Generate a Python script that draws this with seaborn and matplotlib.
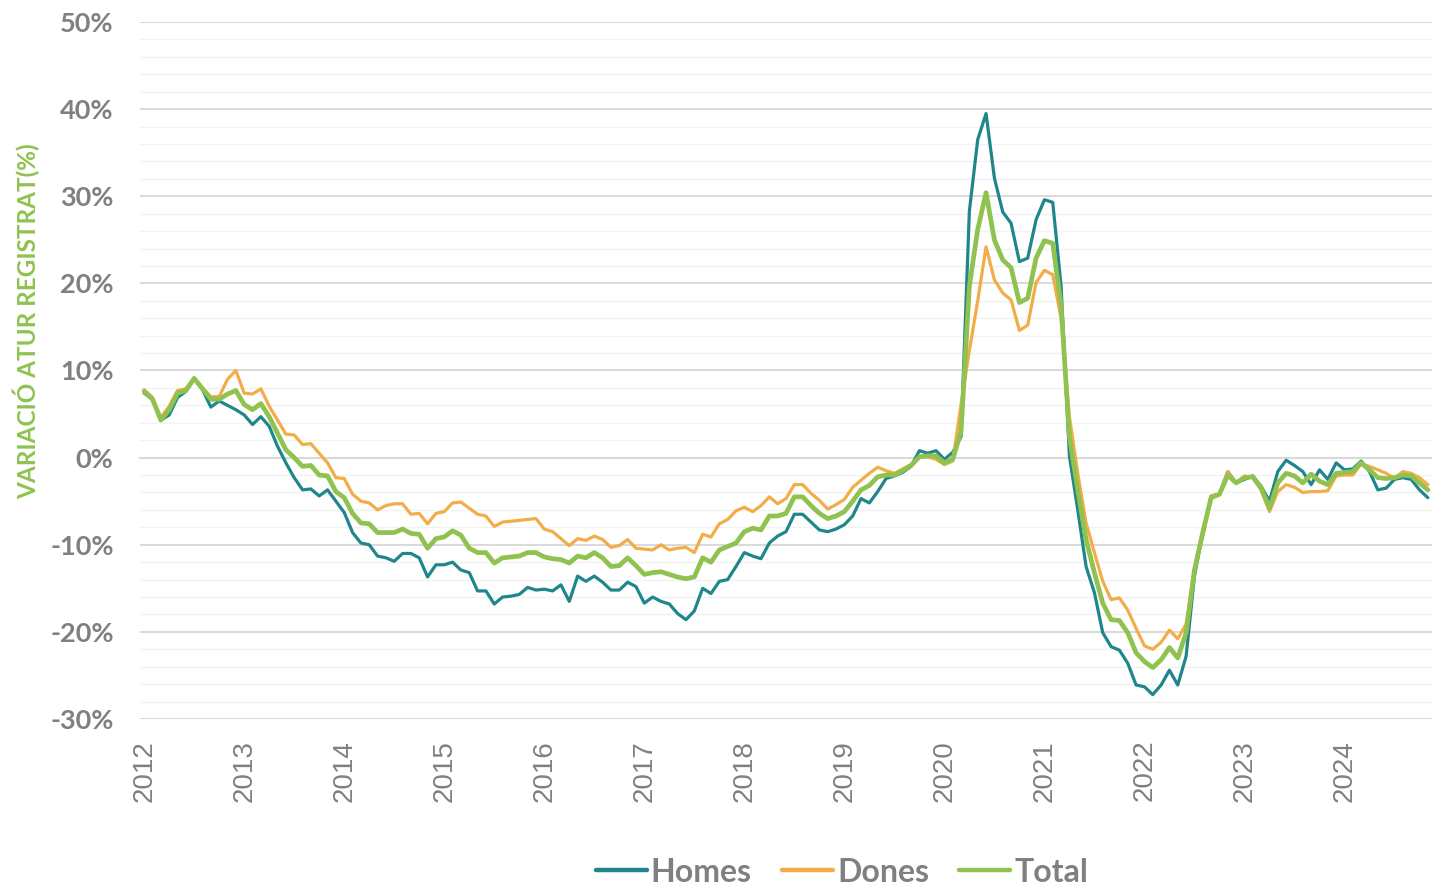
import numpy as np
import pandas as pd
import matplotlib
matplotlib.use("Agg")
import matplotlib.pyplot as plt
import seaborn as sns
from matplotlib.lines import Line2D

# ---------------- data (monthly, Jan 2012 .. Nov 2024) ----------------
years = [str(y) for y in range(2012, 2025)]

homes = [
    7.4, 6.7, 4.3, 4.9, 6.9, 7.6, 9.1, 7.8, 5.8, 6.5, 6.0, 5.5,
    4.9, 3.8, 4.7, 3.6, 1.3, -0.6, -2.3, -3.7, -3.6, -4.4, -3.7, -5.0,
    -6.3, -8.6, -9.8, -10.0, -11.3, -11.5, -11.9, -11.0, -11.0, -11.5, -13.7, -12.3,
    -12.3, -12.0, -12.9, -13.2, -15.3, -15.3, -16.8, -16.0, -15.9, -15.7, -14.9, -15.2,
    -15.1, -15.3, -14.6, -16.5, -13.6, -14.2, -13.6, -14.3, -15.2, -15.2, -14.3, -14.8,
    -16.7, -16.0, -16.5, -16.8, -17.9, -18.6, -17.6, -15.0, -15.6, -14.2, -14.0, -12.5,
    -10.9, -11.3, -11.6, -9.8, -9.0, -8.5, -6.5, -6.5, -7.4, -8.3, -8.5, -8.2,
    -7.7, -6.7, -4.7, -5.2, -3.9, -2.4, -2.1, -1.7, -1.0, 0.8, 0.5, 0.8,
    -0.2, 0.6, 2.4, 28.3, 36.5, 39.5, 32.1, 28.2, 26.9, 22.5, 22.9, 27.3,
    29.6, 29.3, 19.7, 0.2, -6.0, -12.5, -15.5, -20.1, -21.7, -22.1, -23.6, -26.1,
    -26.3, -27.2, -26.1, -24.4, -26.1, -22.8, -13.6, -8.6, -4.4, -4.2, -1.6, -2.9,
    -2.5, -2.1, -3.3, -5.0, -1.6, -0.3, -0.9, -1.6, -3.1, -1.4, -2.5, -0.6,
    -1.4, -1.3, -0.4, -1.6, -3.7, -3.5, -2.5, -2.3, -2.5, -3.7, -4.6,
]

dones = [
    7.8, 6.9, 4.6, 5.9, 7.7, 7.9, 9.1, 8.0, 7.0, 7.0, 9.0, 10.0,
    7.4, 7.3, 7.9, 5.9, 4.3, 2.7, 2.6, 1.5, 1.6, 0.5, -0.6, -2.3,
    -2.4, -4.2, -5.0, -5.2, -6.0, -5.5, -5.3, -5.3, -6.5, -6.4, -7.6, -6.4,
    -6.2, -5.2, -5.1, -5.8, -6.5, -6.7, -7.9, -7.4, -7.3, -7.2, -7.1, -7.0,
    -8.2, -8.5, -9.3, -10.1, -9.3, -9.5, -9.0, -9.4, -10.3, -10.1, -9.4, -10.4,
    -10.5, -10.6, -10.0, -10.6, -10.4, -10.3, -10.9, -8.8, -9.1, -7.6, -7.1, -6.1,
    -5.7, -6.2, -5.5, -4.5, -5.3, -4.7, -3.1, -3.1, -4.1, -4.9, -5.9, -5.4,
    -4.8, -3.4, -2.6, -1.8, -1.1, -1.5, -1.8, -1.3, -0.8, 0.1, 0.1, -0.2,
    -0.8, -0.4, 6.1, 12.3, 18.0, 24.2, 20.4, 18.9, 18.1, 14.6, 15.2, 20.1,
    21.5, 21.0, 16.0, 4.7, -1.8, -7.5, -10.9, -14.2, -16.3, -16.1, -17.5, -19.6,
    -21.6, -22.0, -21.2, -19.8, -20.8, -19.1, -12.9, -9.0, -4.4, -4.2, -1.6, -2.9,
    -2.1, -2.3, -3.7, -6.2, -3.9, -3.1, -3.4, -4.0, -3.9, -3.9, -3.8, -2.1,
    -2.0, -2.0, -0.7, -1.0, -1.4, -1.8, -2.4, -1.6, -1.8, -2.3, -3.1,
]

total = [
    7.6, 6.7, 4.3, 5.5, 7.4, 7.7, 9.1, 7.9, 6.7, 6.7, 7.3, 7.7,
    6.1, 5.5, 6.2, 4.7, 2.8, 0.9, 0.0, -1.0, -0.9, -2.0, -2.1, -3.9,
    -4.6, -6.4, -7.5, -7.6, -8.6, -8.6, -8.6, -8.2, -8.7, -8.8, -10.4, -9.3,
    -9.1, -8.4, -8.9, -10.4, -10.9, -10.9, -12.1, -11.5, -11.4, -11.3, -10.9, -10.9,
    -11.4, -11.6, -11.7, -12.1, -11.3, -11.5, -10.9, -11.5, -12.5, -12.4, -11.5, -12.4,
    -13.4, -13.2, -13.1, -13.4, -13.7, -13.9, -13.7, -11.5, -12.0, -10.6, -10.2, -9.8,
    -8.5, -8.1, -8.3, -6.7, -6.7, -6.4, -4.5, -4.5, -5.5, -6.4, -7.0, -6.7,
    -6.2, -5.0, -3.7, -3.2, -2.2, -2.0, -2.0, -1.5, -0.9, 0.1, 0.2, 0.2,
    -0.6, -0.2, 3.0, 19.7, 26.2, 30.4, 25.0, 22.7, 21.8, 17.8, 18.3, 22.9,
    24.9, 24.6, 17.5, 2.4, -3.7, -9.4, -13.2, -16.7, -18.6, -18.7, -20.1, -22.4,
    -23.4, -24.1, -23.2, -21.8, -23.0, -20.1, -12.9, -8.6, -4.6, -4.2, -2.0, -2.9,
    -2.3, -2.2, -3.5, -5.8, -2.9, -1.8, -2.1, -2.9, -1.9, -2.7, -3.1, -1.8,
    -1.7, -1.6, -0.6, -1.4, -2.3, -2.4, -2.3, -2.0, -2.1, -2.9, -3.7,
]

series_names = ["Homes", "Dones", "Total"]
colors = {"Homes": "#1f868b", "Dones": "#f2ad48", "Total": "#8fc24f"}
widths = {"Homes": 2.3, "Dones": 2.3, "Total": 3.4}

n = len(homes)
month_idx = np.arange(n)
df = pd.concat([
    pd.DataFrame({"mes": month_idx, "valor": v, "serie": name})
    for name, v in zip(series_names, [homes, dones, total])
], ignore_index=True)

# ---------------- figure ----------------
sns.set_style("white")
plt.rcParams["font.family"] = ["Lato", "DejaVu Sans"]

fig = plt.figure(figsize=(14.32, 8.89), dpi=100)
ax = fig.add_axes([140 / 1432, 170 / 889, 1292 / 1432, 697 / 889])

sns.lineplot(data=df, x="mes", y="valor", hue="serie", hue_order=series_names,
             palette=colors, size="serie", sizes=widths, size_order=series_names,
             ax=ax, legend=False, zorder=3)
for line in ax.get_lines():
    line.set_solid_joinstyle("round")
    line.set_solid_capstyle("round")

ax.set_xlim(-0.5, n - 1 - 0.2)
ax.set_ylim(-30, 50)

# y axis: gridlines
ax.set_yticks(np.arange(-30, 51, 10))
ax.set_yticks(np.arange(-30, 51, 2), minor=True)
ax.set_yticklabels([f"{v}%" for v in range(-30, 51, 10)])
ax.grid(which="major", axis="y", color="#d9d9d9", lw=1.4, zorder=0)
ax.grid(which="minor", axis="y", color="#f2f2f2", lw=1.0, zorder=0)
ax.grid(which="both", axis="x", visible=False)
ax.tick_params(axis="y", which="both", length=0, pad=19)
for lab in ax.get_yticklabels():
    lab.set_fontweight("bold")
    lab.set_fontsize(19.5)
    lab.set_color("#808080")

# x axis line at 0 with monthly tick marks (between months)
for s in ["top", "right", "left"]:
    ax.spines[s].set_visible(False)
ax.spines["bottom"].set_position(("data", 0))
ax.spines["bottom"].set_color("#d9d9d9")
ax.spines["bottom"].set_linewidth(1.5)
ax.spines["bottom"].set_zorder(1)
ax.set_xticks([])
ax.set_xticks(np.arange(-0.5, n, 1.0), minor=True)
ax.tick_params(axis="x", which="minor", length=7, width=1.4, color="#d9d9d9",
               direction="out", labelbottom=False)

# year labels at the bottom
year_pos = np.arange(0, 12 * len(years), 12)
sec = ax.secondary_xaxis("bottom")
sec.set_xticks(year_pos)
sec.set_xticklabels(years, rotation=90, fontsize=20, color="#808080",
                    family=["Liberation Sans", "DejaVu Sans"])
sec.tick_params(length=0, pad=15)
sec.spines["bottom"].set_visible(False)

ax.set_xlabel("")
ax.set_ylabel("VARIACIÓ ATUR REGISTRAT(%)", fontsize=17.5, fontweight="bold",
              color="#8fc24f")
ax.yaxis.set_label_coords(-0.077, 0.571)

# legend
handles = [Line2D([0], [0], color=colors[s], lw=3.2, solid_capstyle="round")
           for s in series_names]
leg = fig.legend(handles, series_names, loc="center",
                 bbox_to_anchor=(842 / 1432, 17 / 889), ncol=3, frameon=False,
                 handlelength=1.6, handletextpad=0.12, columnspacing=0.95,
                 borderaxespad=0, borderpad=0.1,
                 prop={"family": "Lato", "weight": "bold", "size": 23})
for t in leg.get_texts():
    t.set_color("#808080")

fig.savefig("out.png", dpi=100)
